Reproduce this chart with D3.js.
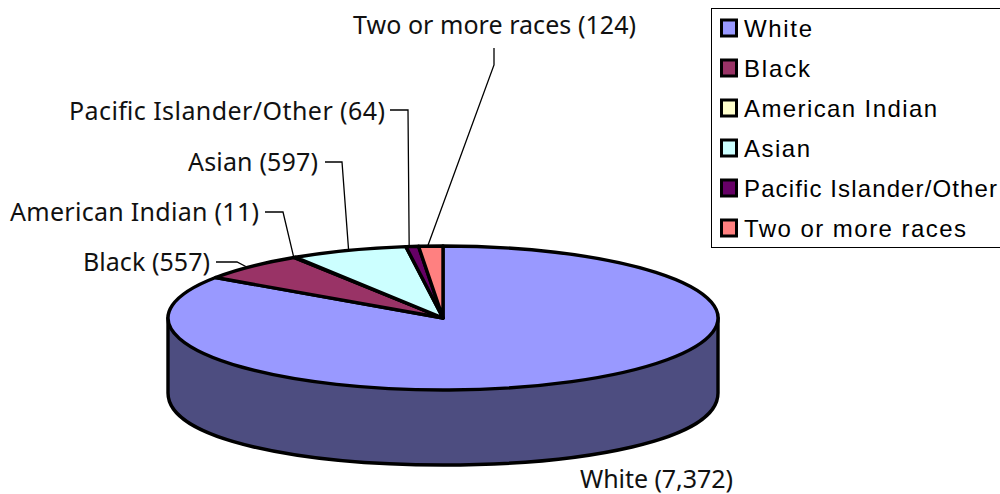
<!DOCTYPE html>
<meta charset="utf-8">

<script src="https://d3js.org/d3.v7.min.js"></script>

<style type="text/css">
html, body {
  margin: 0;
  background: #fff;
}

svg {
  display: block;
}

/* pie labels */
.pieLabel text {
  font-family: "Noto Sans", sans-serif;
  font-size: 25px;
  fill: #111;
}

.pieLabel polyline {
  fill: none;
  stroke: #000;
  stroke-width: 1.3px;
}

.slice, .side {
  stroke: #000;
  stroke-width: 3.4px;
  stroke-linejoin: round;
}

.slice {
  vector-effect: non-scaling-stroke;
}

.legend text {
  font-family: "Liberation Sans", Arial, sans-serif;
  font-size: 24px;
  fill: #000;
}
</style>

<body>
</body>

<script>

var categories = ["White", "Black", "American Indian", "Asian", "Pacific Islander/Other", "Two or more races"];
var values = [7372, 557, 11, 597, 64, 124];
var valueLabels = ["7,372", "557", "11", "597", "64", "124"];
var colors = ["#9999ff", "#993366", "#ffffcc", "#ccffff", "#660066", "#ff8080"];
var sideColor = "#4d4d80";

var width = 1000,
    height = 494;

// pie geometry, the chart is an ellipse with a side wall
var cx = 443,
    cy = 318,
    rx = 275,
    ry = 72,
    depth = 75;

var svg = d3.select("body").append("svg")
    .attr("width", width)
    .attr("height", height);

var pie = d3.pie().sort(null).value(function(d) { return d; });
var slices = pie(values);

// unit arc, squashed to an ellipse by the transform
var arc = d3.arc().innerRadius(0).outerRadius(1);

// side wall, only the front half can be seen
var side = d3.path();
side.moveTo(cx - rx, cy);
side.lineTo(cx - rx, cy + depth);
side.bezierCurveTo(cx - rx, cy + depth + ry * 1.333, cx + rx, cy + depth + ry * 1.333, cx + rx, cy + depth);
side.lineTo(cx + rx, cy);
side.closePath();

svg.append("path")
    .attr("class", "side")
    .attr("d", side.toString())
    .style("fill", sideColor);

svg.append("g")
    .attr("transform", "translate(" + cx + "," + cy + ") scale(" + rx + "," + ry + ")")
  .selectAll("path")
  .data(slices).enter().append("path")
    .attr("class", "slice")
    .attr("d", arc)
    .style("fill", function(d, i) { return colors[i]; });

// label layout: text position and width, then elbow of the leader line
var labelPos = [
  {x: 580, y: 488, w: 153},
  {x: 83, y: 271, w: 127, elbow: [[216, 262], [237, 262]], nudge: -5},
  {x: 10, y: 221, w: 249, elbow: [[265, 212], [283, 212]], nudge: -1},
  {x: 188, y: 171, w: 130, elbow: [[325, 162], [342, 162]], nudge: 0},
  {x: 69, y: 120, w: 316, elbow: [[390, 110], [408, 110]], nudge: -3},
  {x: 353, y: 34, w: 283, elbow: [[494, 48], [494, 65]], nudge: -3}
];

var labels = svg.selectAll(".pieLabel")
  .data(slices).enter().append("g")
    .attr("class", "pieLabel");

labels.append("polyline")
    .filter(function(d, i) { return labelPos[i].elbow; })
    .attr("points", function(d) {
      var p = labelPos[d.index];
      var mid = (d.startAngle + d.endAngle) / 2;
      var end = [cx + rx * Math.sin(mid) + p.nudge, cy - ry * Math.cos(mid)];
      return p.elbow.concat([end]).join(" ");
    });

labels.append("text")
    .attr("x", function(d) { return labelPos[d.index].x; })
    .attr("y", function(d) { return labelPos[d.index].y; })
    .attr("textLength", function(d) { return labelPos[d.index].w; })
    .text(function(d) { return categories[d.index] + " (" + valueLabels[d.index] + ")"; });

// legend
var legendWidths = [68, 66, 193, 66, 253, 222];

var legendY = d3.scaleBand()
    .domain(categories)
    .range([8, 248]);

var legend = svg.append("g").attr("class", "legend");

legend.append("rect")
    .attr("x", 711.5)
    .attr("y", 8.5)
    .attr("width", 300)
    .attr("height", 239)
    .style("fill", "#fff")
    .style("stroke", "#000")
    .style("stroke-width", 1);

var legendItem = legend.selectAll(".legendItem")
  .data(categories).enter().append("g")
    .attr("class", "legendItem")
    .attr("transform", function(d) { return "translate(0," + (legendY(d) + legendY.bandwidth() / 2) + ")"; });

legendItem.append("rect")
    .attr("x", 721.5)
    .attr("y", -8)
    .attr("width", 15)
    .attr("height", 16)
    .style("fill", function(d, i) { return colors[i]; })
    .style("stroke", "#000")
    .style("stroke-width", 3);

legendItem.append("text")
    .attr("x", 744)
    .attr("y", 9)
    .attr("textLength", function(d, i) { return legendWidths[i]; })
    .text(function(d) { return d; });

</script>
